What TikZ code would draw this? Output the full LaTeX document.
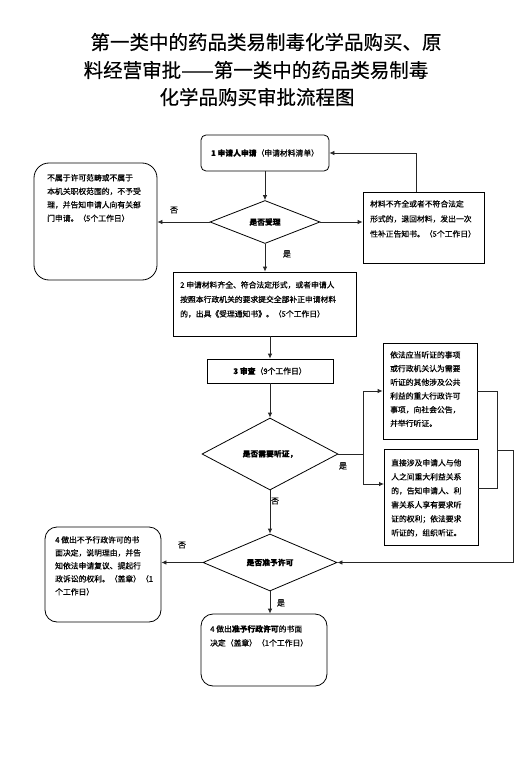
\documentclass[tikz,border=0pt]{standalone}
\usepackage{fontspec}
\newfontfamily\cjk[FakeBold=0.5]{Noto Sans CJK SC}
\newfontfamily\cjkt[FakeBold=0.4]{Noto Sans CJK SC}
\usetikzlibrary{shapes.geometric,arrows.meta}
\begin{document}
\begin{tikzpicture}[x=1pt,y=-1pt,
  box/.style={draw=black,line width=0.8pt,inner sep=0pt,font=\cjk\fontsize{7.8}{9}\selectfont},
  rbox/.style={box,rounded corners=#1},
  dia/.style={draw=black,diamond,line width=0.8pt,inner sep=0pt,font=\cjk\fontsize{7.8}{9}\selectfont\bfseries},
  txt/.style={inner sep=0pt,align=left,anchor=north west,font=\cjk\fontsize{7.8}{#1}\selectfont},
  arr/.style={draw=black!85,line width=0.8pt,-{Latex[length=5pt,width=4.5pt]}},
  ln/.style={draw=black!85,line width=0.8pt},
  lbl/.style={inner sep=0pt,font=\cjk\fontsize{8}{9}\selectfont},
  ttl/.style={inner sep=0pt,font=\cjkt\fontsize{19.5}{21}\selectfont}]
\fill[white] (0,0) rectangle (531,762);
\useasboundingbox (0,0) rectangle (531,762);

% title
\node[ttl] (h1) at (266,42) {第一类中的药品类易制毒化学品购买、原};
\node[ttl] (h2) at (256,70) {料经营审批——第一类中的药品类易制毒};
\node[ttl] (h3) at (257,97) {化学品购买审批流程图};

% boxes
\node[rbox=5,minimum width=128pt,minimum height=36pt] (b1) at (265,153) {{\bfseries 1 申请人申请}（申请材料清单）};
\node[dia,minimum width=110pt,minimum height=43pt] (d1) at (265,222) {是否受理};

\node[rbox=15,minimum width=123pt,minimum height=117pt] (lb1) at (95.5,221.5) {};
\node[txt=13.5] (lt1) at (47,174) {不属于许可范畴或不属于\\本机关职权范围的，不予受\\理，并告知申请人向有关部\\门申请。（5个工作日）};

\node[box,minimum width=121pt,minimum height=71pt] (rb1) at (423.5,227.5) {};
\node[txt=15] (rt1) at (370,200) {材料不齐全或者不符合法定\\形式的，退回材料，发出一次\\性补正告知书。（5个工作日）};

\node[box,minimum width=183pt,minimum height=64pt] (b2) at (264.5,304) {};
\node[txt=14.5] (t2) at (180,281) {2 申请材料齐全、符合法定形式，或者申请人\\按照本行政机关的要求提交全部补正申请材料\\的，出具《受理通知书》。（5个工作日）};

\node[box,minimum width=126pt,minimum height=24pt] (b3) at (270,371) {{\bfseries 3 审查}（9个工作日）};

\node[dia,minimum width=136pt,minimum height=72pt] (d2) at (270,454) {是否需要听证，};

\node[box,minimum width=94pt,minimum height=96pt] (b5) at (430,391) {};
\node[txt=13.7] (t5) at (390,351) {依法应当听证的事项\\或行政机关认为需要\\听证的其他涉及公共\\利益的重大行政许可\\事项，向社会公告，\\并举行听证。};

\node[box,minimum width=94pt,minimum height=96pt] (b6) at (431,497) {};
\node[txt=14] (t6) at (391,459) {直接涉及申请人与他\\人之间重大利益关系\\的，告知申请人、利\\害关系人享有要求听\\证的权利；依法要求\\听证的，组织听证。};

\node[dia,minimum width=134pt,minimum height=57pt] (d3) at (270,562.5) {是否准予许可};

\node[rbox=12,minimum width=116pt,minimum height=95pt] (lb2) at (103,574.5) {};
\node[txt=13] (lt2) at (55,536) {4 做出不予行政许可的书\\面决定，说明理由，并告\\知依法申请复议、提起行\\政诉讼的权利。（盖章）（1\\个工作日）};

\node[rbox=12,minimum width=126pt,minimum height=72pt] (b4) at (264,650) {};
\node[txt=14] (t4) at (210,625) {4 做出{\bfseries 准予行政许可}的书面\\决定（盖章）（1个工作日）};

% labels
\node[lbl] (n1) at (174,210) {否};
\node[lbl] (y1) at (287,254) {是};
\node[lbl] (y2) at (343,466) {是};
\node[lbl] (n2) at (275,501) {否};
\node[lbl] (n3) at (182,545) {否};
\node[lbl] (y3) at (281,603) {是};

% connectors
\draw[arr] (b1.south) -- (d1.north);
\draw[arr] (d1.west) -- (d1.west -| lb1.east);
\draw[arr] (d1.east) -- (d1.east -| rb1.west);
\draw[arr] ([xshift=-7.5pt]rb1.north) |- (b1.east);
\draw[arr] (d1.south) -- (d1.south |- b2.north);
\draw[arr] (b3.north |- b2.south) -- (b3.north);
\draw[arr] (b3.south) -- (d2.north);

\coordinate (sp) at (363,454);
\coordinate (e6) at (384,484);
\coordinate (x6) at (478,488);
\coordinate (m) at (497,450);
\coordinate (r) at (513,450);
\draw[ln] (d2.east) -- (sp);
\draw[arr] (sp) |- (b5.west);
\draw[arr] (sp) |- (e6);
\draw[ln] (b5.east) -| (m);
\draw[ln] (x6) -| (m);
\draw[arr] (m) -- (r) |- (d3.east);

\draw[arr] (d2.south) -- (d3.north);
\draw[arr] (d3.west) -- (d3.west -| lb2.east);
\draw[arr] (d3.south) -- (d3.south |- b4.north);
\end{tikzpicture}
\end{document}
